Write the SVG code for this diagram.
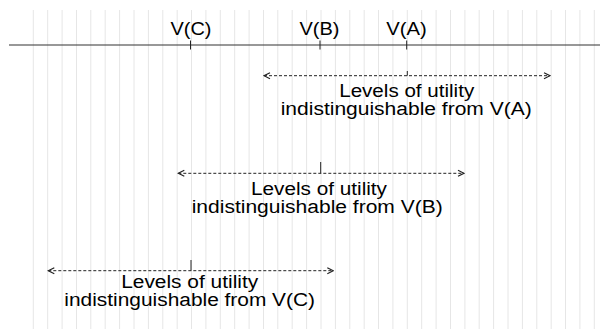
<svg xmlns="http://www.w3.org/2000/svg" width="600" height="331" viewBox="0 0 600 331">
<defs>
<style>
.grid{stroke:#e6e6e6;stroke-width:1;fill:none}
.axis{stroke:#333;stroke-width:1.2;fill:none}
.tick{stroke:#222;stroke-width:1;fill:none}
.rng{stroke:#222;stroke-width:1;stroke-dasharray:3 2;fill:none;marker-start:url(#ah);marker-end:url(#ah)}
text{font-family:"Liberation Sans",Arial,Helvetica,sans-serif;fill:#000;text-anchor:middle;font-size:18px}
</style>
<marker id="ah" viewBox="0 0 8 8" refX="7" refY="4" markerWidth="8" markerHeight="8" markerUnits="userSpaceOnUse" orient="auto-start-reverse">
<path d="M1,1 L7,4 L1,7" fill="none" stroke="#222" stroke-width="1.2"/>
</marker>
</defs>
<rect width="600" height="331" fill="#fff"/>
<path class="grid" d="M33.3,10V329 M47.7,10V329 M62.1,10V329 M76.5,10V329 M90.8,10V329 M105.2,10V329 M119.6,10V329 M134,10V329 M148.4,10V329 M162.8,10V329 M177.2,10V329 M191.5,10V329 M205.9,10V329 M220.3,10V329 M234.7,10V329 M249.1,10V329 M263.5,10V329 M277.8,10V329 M292.2,10V329 M306.6,10V329 M321,10V329 M335.4,10V329 M349.8,10V329 M364.2,10V329 M378.5,10V329 M392.9,10V329 M407.3,10V329 M421.7,10V329 M436.1,10V329 M450.5,10V329 M464.9,10V329 M479.2,10V329 M493.6,10V329 M508,10V329 M522.4,10V329 M536.8,10V329 M551.2,10V329 M565.5,10V329 M579.9,10V329 M594.3,10V329"/>
<g id="axis">
<line class="axis" x1="9" y1="45" x2="600" y2="45"/>
</g>
<g id="vc">
<line class="tick" x1="190.5" y1="40.5" x2="190.5" y2="49.5"/>
<text x="191" y="35" textLength="41" lengthAdjust="spacingAndGlyphs">V(C)</text>
</g>
<g id="vb">
<line class="tick" x1="320" y1="40.5" x2="320" y2="49.5"/>
<text x="319.5" y="35" textLength="40" lengthAdjust="spacingAndGlyphs">V(B)</text>
</g>
<g id="va">
<line class="tick" x1="406.7" y1="40.5" x2="406.7" y2="49.5"/>
<text x="406.5" y="35" textLength="40.5" lengthAdjust="spacingAndGlyphs">V(A)</text>
</g>
<g id="connectors">
<line class="rng" x1="264" y1="75.7" x2="550" y2="75.7"/>
<line class="rng" x1="178.3" y1="173.3" x2="464" y2="173.3"/>
<line class="rng" x1="48.3" y1="270.7" x2="333.3" y2="270.7"/>
<line class="tick" x1="407.3" y1="71" x2="407.3" y2="75.7"/>
<line class="tick" x1="320.7" y1="162" x2="320.7" y2="173.3"/>
<line class="tick" x1="191" y1="260" x2="191" y2="270.7"/>
</g>
<g id="range-a">
<text x="406.7" y="96.5" textLength="135" lengthAdjust="spacingAndGlyphs">Levels of utility</text>
<text x="406.2" y="114.5" textLength="251" lengthAdjust="spacingAndGlyphs">indistinguishable from V(A)</text>
</g>
<g id="range-b">
<text x="319" y="194.5" textLength="136" lengthAdjust="spacingAndGlyphs">Levels of utility</text>
<text x="317.2" y="213" textLength="251" lengthAdjust="spacingAndGlyphs">indistinguishable from V(B)</text>
</g>
<g id="range-c">
<text x="189.7" y="287.5" textLength="137" lengthAdjust="spacingAndGlyphs">Levels of utility</text>
<text x="189.7" y="306" textLength="250.7" lengthAdjust="spacingAndGlyphs">indistinguishable from V(C)</text>
</g>
</svg>
